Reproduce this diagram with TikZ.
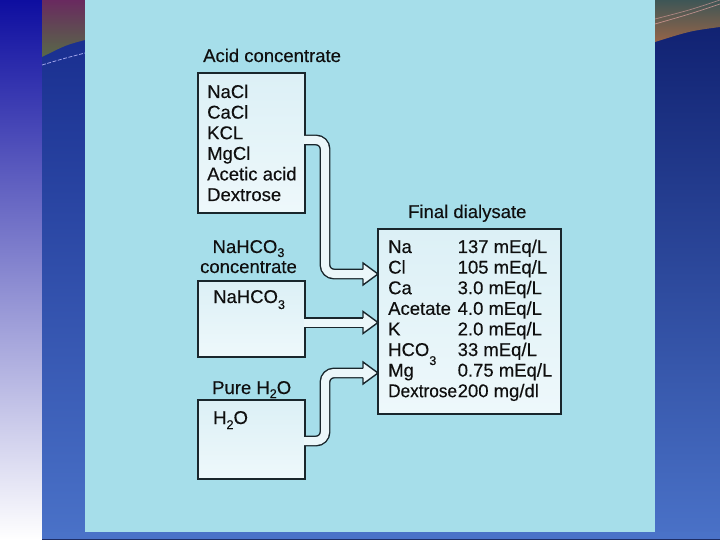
\documentclass[tikz,border=0pt]{standalone}
\usepackage{fontspec}
\setmainfont{Liberation Sans}[FakeBold=0.25]
\usetikzlibrary{calc}
\definecolor{panel}{RGB}{166,222,234}
\definecolor{boxtop}{RGB}{220,240,246}
\definecolor{boxbot}{RGB}{238,248,251}
\definecolor{ink}{RGB}{25,38,44}
\definecolor{txt}{RGB}{15,15,15}
\definecolor{pipein}{RGB}{236,247,250}
\definecolor{lsTop}{RGB}{14,14,160}
\definecolor{lsMid}{RGB}{190,188,220}
\definecolor{stripTop}{RGB}{22,42,140}
\definecolor{stripBot}{RGB}{74,114,200}
\definecolor{rsTop}{RGB}{14,30,110}
\definecolor{swA}{RGB}{105,42,95}
\definecolor{swB}{RGB}{88,105,72}
\definecolor{swC}{RGB}{62,86,86}
\definecolor{swD}{RGB}{150,100,72}
\definecolor{bandline}{RGB}{30,45,100}
\newcommand\lowsub[2][5]{\raisebox{-#1bp}{\fontsize{12.6bp}{12bp}\selectfont #2}}
\tikzset{
  box/.style={draw=ink, line width=1.5bp, top color=boxtop, bottom color=boxbot, inner sep=0pt, outer sep=0pt},
  lbl/.style={font=\fontsize{18.5bp}{20.6bp}\selectfont, text=txt, inner sep=0pt, anchor=base west},
  pipe/.style={draw=ink, line width=1.4bp, double=pipein, double distance=8bp, rounded corners=9bp},
  headstyle/.style={draw=ink, line width=1.4bp, fill=pipein, line join=miter}
}
\newcommand\pipehead[1]{%
  \filldraw[headstyle] ($(#1)+(-15,-4.7)$) -- ($(#1)+(-15,-11)$) -- (#1) -- ($(#1)+(-15,11)$) -- ($(#1)+(-15,4.7)$);}
\begin{document}
\begin{tikzpicture}[x=1bp,y=-1bp]
\useasboundingbox (0,0) rectangle (720,540);
% background strips
\shade[top color=lsTop, middle color=lsMid, bottom color=white] (0,0) rectangle (42,540);
\shade[top color=stripTop, bottom color=stripBot] (42,0) rectangle (85,540);
\shade[top color=rsTop, bottom color=stripBot] (655,0) rectangle (720,540);
\shade[top color=swA, bottom color=swB] (42,0) -- (85,0) -- (85,40) .. controls (66,45) .. (42,57) -- cycle;
\draw[blue!25!white, opacity=0.8, line width=0.8bp, dash pattern=on 4bp off 1.5bp] (42,65) .. controls (62,59) .. (85,53);
\shade[top color=swC, bottom color=swD] (655,0) -- (720,0) -- (720,27) .. controls (690,31) .. (655,42) -- cycle;
\draw[red!30!white, opacity=0.6, line width=0.7bp] (655,24) .. controls (690,14) .. (720,4);
\draw[red!30!white, opacity=0.5, line width=0.7bp] (655,19) .. controls (690,10) .. (720,0);
\fill[stripBot] (42,532) rectangle (720,540);
\draw[bandline, line width=1.5bp] (42,539.25) -- (720,539.25);
% panel
\fill[panel] (85,0) rectangle (655,532);

% boxes
\node[box, minimum width=107bp, minimum height=140bp] (acid) at (251.5,143) {};
\node[box, minimum width=107bp, minimum height=76bp] (bic) at (251.5,319) {};
\node[box, minimum width=107bp, minimum height=79bp] (water) at (251.5,439.5) {};
\node[box, minimum width=183bp, minimum height=185bp] (final) at (469.5,321.5) {};

% labels
\node[lbl] (acidlbl) at (203,62) {Acid concentrate};
\node[lbl] (a1) at (207,98) {NaCl};
\node[lbl] (a2) at (207,118.6) {CaCl};
\node[lbl] (a3) at (207,139.2) {KCL};
\node[lbl] (a4) at (207,159.8) {MgCl};
\node[lbl] (a5) at (207,180.4) {Acetic acid};
\node[lbl] (a6) at (207,201) {Dextrose};

\node[lbl, anchor=base] (biclbl1) at (248.5,253) {NaHCO\lowsub[4]{3}};
\node[lbl, anchor=base] (biclbl2) at (248.5,273) {concentrate};
\node[lbl] (b1) at (213,303) {NaHCO\lowsub[6]{3}};

\node[lbl] (waterlbl) at (212,394) {Pure H\lowsub[4]{2}O};
\node[lbl] (w1) at (213,424) {H\lowsub[5]{2}O};

\node[lbl] (finallbl) at (408,218) {Final dialysate};
\node[lbl] (f1) at (388,253) {Na};
\node[lbl] (v1) at (457.5,253) {137 mEq/L};
\node[lbl] (f2) at (388,273.6) {Cl};
\node[lbl] (v2) at (457.5,273.6) {105 mEq/L};
\node[lbl] (f3) at (388,294.2) {Ca};
\node[lbl] (v3) at (457.5,294.2) {3.0 mEq/L};
\node[lbl] (f4) at (388,314.8) {Acetate};
\node[lbl] (v4) at (457.5,314.8) {4.0 mEq/L};
\node[lbl] (f5) at (388,335.4) {K};
\node[lbl] (v5) at (457.5,335.4) {2.0 mEq/L};
\node[lbl] (f6) at (388,356) {HCO\lowsub[9]{3}};
\node[lbl] (v6) at (457.5,356) {33 mEq/L};
\node[lbl] (f7) at (388,376.6) {Mg};
\node[lbl] (v7) at (457.5,376.6) {0.75 mEq/L};
\node[lbl] (f8) at (388,397.2) {\scalebox{0.93}[1]{Dextrose}};
\node[lbl] (v8) at (457.5,397.2) {200 mg/dl};

% connectors
\coordinate (t1) at (final.west |- 0,274);
\coordinate (t2) at (final.west |- 0,322.5);
\coordinate (t3) at (final.west |- 0,373);
\draw[pipe] ($(acid.east |- 0,140)+(-1,0)$) -| (325,274) -- ($(t1)+(-15,0)$);
\draw[pipe] ($(bic.east |- 0,322.5)+(-1,0)$) -- ($(t2)+(-15,0)$);
\draw[pipe] ($(water.east |- 0,441)+(-1,0)$) -| (325,373) -- ($(t3)+(-15,0)$);
\pipehead{t1}
\pipehead{t2}
\pipehead{t3}
\end{tikzpicture}
\end{document}
